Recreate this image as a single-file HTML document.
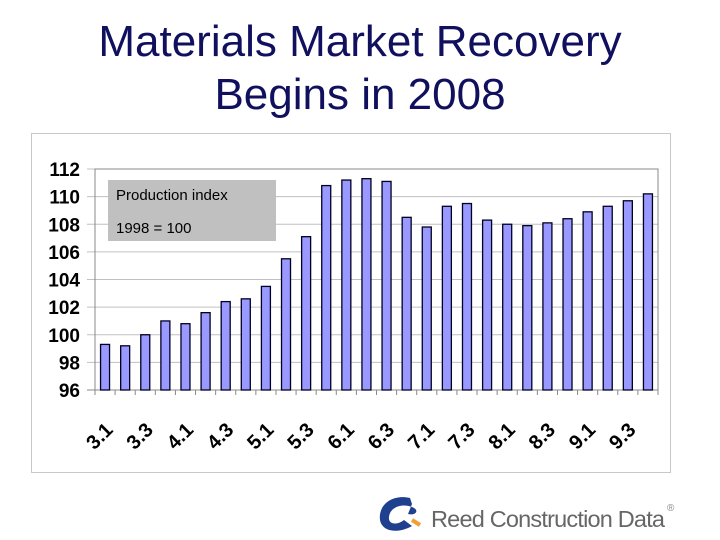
<!DOCTYPE html>
<html><head><meta charset="utf-8"><style>
body{margin:0;background:#fff;width:720px;height:540px;overflow:hidden;font-family:"Liberation Sans",sans-serif}
#title{position:absolute;left:0;top:15px;width:720px;text-align:center;color:#10105f;font-size:44px;line-height:53px}
</style></head><body>
<div id="title">Materials Market Recovery<br>Begins in 2008</div>
<svg width="720" height="540" style="position:absolute;left:0;top:0" id="svg">
<rect x="31.5" y="133.5" width="639" height="339" fill="#fff" stroke="#c8c8c8"/>
<g id="grid"></g><g id="bars"></g><g id="axes"></g>
<rect x="108" y="180" width="168" height="61" fill="#c0c0c0"/>
<text x="116" y="200" font-size="15" fill="#000">Production index</text>
<text x="116" y="233" font-size="15" fill="#000">1998 = 100</text>
<g>
<path d="M410 498 C392 494 378 505 380 520 C382 532 398 534 412 526 L404 520 C396 526 388 524 389 517 C390 507 402 503 412 507 C420 510 416 516 408 514 L412 504 Z" fill="#1f3f8f"/>
<path d="M412 520 L420 525" stroke="#f0a030" stroke-width="4"/>
<text x="431" y="527" font-size="23.5" fill="#666" letter-spacing="-0.8">Reed Construction Data</text>
<text x="667" y="511" font-size="10" fill="#888">®</text>
</g>
</svg>
<script>
const categories=["3.1","3.2","3.3","3.4","4.1","4.2","4.3","4.4","5.1","5.2","5.3","5.4","6.1","6.2","6.3","6.4","7.1","7.2","7.3","7.4","8.1","8.2","8.3","8.4","9.1","9.2","9.3","9.4"];
const values=[99.3,99.2,100.0,101.0,100.8,101.6,102.4,102.6,103.5,105.5,107.1,110.8,111.2,111.3,111.1,108.5,107.8,109.3,109.5,108.3,108.0,107.9,108.1,108.4,108.9,109.3,109.7,110.2];
const yTicks=[96,98,100,102,104,106,108,110,112];
const NS="http://www.w3.org/2000/svg";
const X0=95,X1=658,YT=169,YB=390,YMIN=96,YMAX=112;
const slot=(X1-X0)/categories.length;
const y=v=>YB-(v-YMIN)/(YMAX-YMIN)*(YB-YT);
const x=i=>X0+slot*(i+0.5);
function mk(tag,attrs,parent){const e=document.createElementNS(NS,tag);for(const k in attrs)e.setAttribute(k,attrs[k]);document.getElementById(parent).appendChild(e);return e;}
yTicks.forEach(t=>{
 const l=mk('line',{x1:X0-8,x2:X1,y1:y(t),y2:y(t),stroke:t===YMIN?'#888':'#c0c0c0','stroke-width':1},'grid');
 
 
 const tx=mk('text',{x:X0-15,y:y(t)+7,'text-anchor':'end','font-size':19,'font-weight':'bold',fill:'#000'},'axes');
 tx.textContent=t;
 
 
});
mk('rect',{x:X0,y:YT,width:X1-X0,height:YB-YT,fill:'none',stroke:'#888'},'grid');
values.forEach((v,i)=>{
 const r=mk('rect',{x:x(i)-4.5,y:y(v),width:9,height:YB-y(v),fill:'#9999ff',stroke:'#000022','stroke-width':1.3},'bars');
 
 
});
for(let i=0;i<=categories.length;i++){mk('line',{x1:X0+slot*i,x2:X0+slot*i,y1:YB,y2:YB+5,stroke:'#888'},'axes');}
categories.forEach((c,i)=>{
 if(i%2)return;
 const tx=mk('text',{transform:`translate(${x(i)+9},${YB+41}) rotate(-45)`,'text-anchor':'end','font-size':20,'font-weight':'bold',fill:'#000'},'axes');
 tx.textContent=c;
 
 
});
</script>
</body></html>
